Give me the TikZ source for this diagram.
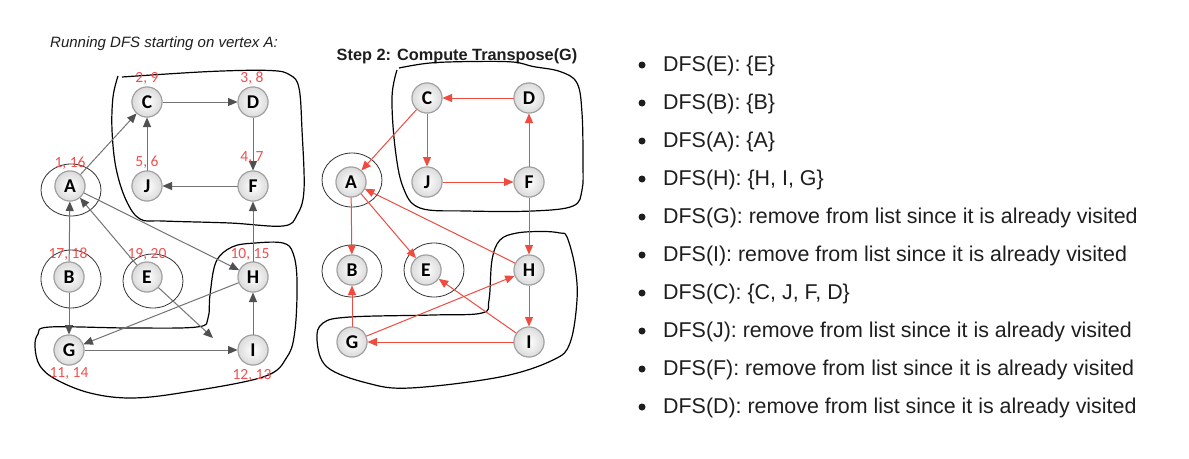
\documentclass[tikz,border=0pt]{standalone}
\usepackage{fontspec}
\setmainfont{Liberation Sans}
\newfontfamily\calfont{Carlito}
\usetikzlibrary{arrows.meta}
\definecolor{edgegray}{RGB}{115,115,115}
\definecolor{tipgray}{RGB}{80,80,80}
\definecolor{redge}{RGB}{240,75,65}
\definecolor{rlabel}{RGB}{240,80,80}
\definecolor{txt}{RGB}{30,30,30}
\tikzset{
  vert/.style={circle, minimum size=30pt, inner sep=0pt, draw=gray!75, line width=1pt,
    inner color=white, outer color=gray!28, text=black,
    font=\calfont\bfseries\fontsize{19.5}{19.5}\selectfont},
  ged/.style={draw=edgegray, line width=1pt, -{Triangle[length=9.5pt,width=8pt,color=tipgray]}},
  red/.style={draw=redge, line width=1pt, -{Triangle[length=9.5pt,width=8pt,color=redge]}},
  ring/.style={draw=black!80, line width=0.8pt},
  blob/.style={draw=black, line width=1.2pt},
  dlabel/.style={text=rlabel, inner sep=0pt, font=\calfont\fontsize{15.5}{15.5}\selectfont},
  item/.style={anchor=base west, inner sep=0pt, text=txt, font=\fontsize{21.4}{26}\selectfont},
  bul/.style={circle, fill=txt, inner sep=0pt, minimum size=7pt}
}
\begin{document}
\begin{tikzpicture}[x=1pt,y=-1pt]
\useasboundingbox (0,0) rectangle (1189,458);
\fill[white] (0,0) rectangle (1189,458);

% titles
\node[anchor=base west, inner sep=0pt, text=txt, font=\itshape\fontsize{15}{18}\selectfont] (t1) at (50,47) {Running DFS starting on vertex A:};
\node[anchor=base west, inner sep=0pt, text=txt, font=\bfseries\fontsize{16.3}{19}\selectfont] (t2) at (336.5,60.5) {Step 2: Compute Transpose(G)};

% ---------- left graph ----------
\node[vert] (lC) at (147,102) {C};
\node[vert] (lD) at (253,102) {D};
\node[vert] (lA) at (70,186) {A};
\node[vert] (lJ) at (147,186) {J};
\node[vert] (lF) at (253,186) {F};
\node[vert] (lB) at (69,277) {B};
\node[vert] (lE) at (147,277) {E};
\node[vert] (lH) at (253,277) {H};
\node[vert] (lG) at (69,350) {G};
\node[vert] (lI) at (253,350) {I};
\coordinate (lEI) at (213,338);

\draw[ring] (71,190) ellipse [x radius=30pt, y radius=26pt];
\draw[ring] (71,279) ellipse [x radius=30pt, y radius=29pt];
\draw[ring] (153,281) ellipse [x radius=30pt, y radius=27pt];

\draw[blob] plot[smooth, tension=0.6] coordinates {(122,77) (210,71.5) (270,70.5) (290,75) (299,88) (302,130) (304,190) (297,215) (283,226) (230,223) (163,221) (140,219) (126,200) (116,168) (112,130) (113,97) (118,76)};
\draw[blob] plot[smooth cycle, tension=0.6] coordinates {(283,243) (255,243) (232,247) (216,262) (210,295) (208,318) (197,327) (130,328) (50,327) (38,334) (35,347) (40,366) (57,380) (90,393) (130,398) (180,393) (263,377) (287,357) (295,330) (297,280) (293,253)};

\draw[ged] (lA) -- (lC);
\draw[ged] (lC) -- (lD);
\draw[ged] (lD) -- (lF);
\draw[ged] (lF) -- (lJ);
\draw[ged] (lJ) -- (lC);
\draw[ged] (lA) -- (lH);
\draw[ged] (lE) -- (lA);
\draw[ged] (lB) -- (lA);
\draw[ged] (lB) -- (lG);
\draw[ged] (lH) -- (lG);
\draw[ged] (lE) -- (lEI);
\draw[ged] (lG) -- (lI);
\draw[ged] (lI) -- (lH);
\draw[ged] (lH) -- (lF);

\node[vert] at (lC) {C};
\node[vert] at (lD) {D};
\node[vert] at (lA) {A};
\node[vert] at (lJ) {J};
\node[vert] at (lF) {F};
\node[vert] at (lB) {B};
\node[vert] at (lE) {E};
\node[vert] at (lH) {H};
\node[vert] at (lG) {G};
\node[vert] at (lI) {I};

\node[dlabel] (n1) at (147,78) {2, 9};
\node[dlabel] (n2) at (252,78) {3, 8};
\node[dlabel] (n3) at (70,163) {1, 16};
\node[dlabel] (n4) at (147,162) {5, 6};
\node[dlabel] (n5) at (252,158) {4, 7};
\node[dlabel] (n6) at (68,254) {17, 18};
\node[dlabel] (n7) at (147,254) {19, 20};
\node[dlabel] (n8) at (250,254) {10, 15};
\node[dlabel] (n9) at (69,373) {11, 14};
\node[dlabel] (n10) at (252,375) {12, 13};

% ---------- right graph ----------
\node[vert] (rC) at (427,98) {C};
\node[vert] (rD) at (529,98) {D};
\node[vert] (rA) at (351,182) {A};
\node[vert] (rJ) at (427,182) {J};
\node[vert] (rF) at (529,182) {F};
\node[vert] (rB) at (352,270) {B};
\node[vert] (rE) at (426,270) {E};
\node[vert] (rH) at (529,270) {H};
\node[vert] (rG) at (352,342) {G};
\node[vert] (rI) at (529,342) {I};

\draw[ring] (352,180) ellipse [x radius=30pt, y radius=27pt];
\draw[ring] (352,271) ellipse [x radius=30pt, y radius=26pt];
\draw[ring] (434,270) ellipse [x radius=30pt, y radius=27pt];

\draw[blob] plot[smooth, tension=0.6] coordinates {(399,68) (430,63) (473,61.5) (513,62) (533,66.5) (560,71.5) (577,83) (582,113) (583,163) (582,190) (573,206) (533,211) (467,211) (420,208) (403,187) (395,147) (392,97) (397,70)};
\draw[blob] plot[smooth cycle, tension=0.6] coordinates {(560,233) (567,237) (575,267) (577,300) (570,343) (553,360) (500,377) (410,388) (367,383) (327,367) (317,340) (323,323) (350,317) (433,315) (482,313) (489,300) (492,260) (500,240) (517,233) (543,231.5)};

\draw[red] (rD) -- (rC);
\draw[red] (rC) -- (rJ);
\draw[red] (rJ) -- (rF);
\draw[red] (rF) -- (rD);
\draw[red] (rC) -- (rA);
\draw[red] (rH) -- (rA);
\draw[red] (rA) -- (rB);
\draw[red] (rA) -- (rE);
\draw[red] (rF) -- (rH);
\draw[red] (rH) -- (rI);
\draw[red] (rI) -- (rE);
\draw[red] (rI) -- (rG);
\draw[red] (rG) -- (rH);
\draw[red] (rG) -- (rB);

\node[vert] at (rC) {C};
\node[vert] at (rD) {D};
\node[vert] at (rA) {A};
\node[vert] at (rJ) {J};
\node[vert] at (rF) {F};
\node[vert] at (rB) {B};
\node[vert] at (rE) {E};
\node[vert] at (rH) {H};
\node[vert] at (rG) {G};
\node[vert] at (rI) {I};

% ---------- list ----------
\foreach \i/\t in {0/{DFS(E): \{E\}},
                   1/{DFS(B): \{B\}},
                   2/{DFS(A): \{A\}},
                   3/{DFS(H): \{H, I, G\}},
                   4/{DFS(G): remove from list since it is already visited},
                   5/{DFS(I): remove from list since it is already visited},
                   6/{DFS(C): \{C, J, F, D\}},
                   7/{DFS(J): remove from list since it is already visited},
                   8/{DFS(F): remove from list since it is already visited},
                   9/{DFS(D): remove from list since it is already visited}}{
  \node[bul] (b\i) at (642,{65+38*\i}) {};
  \node[item] (it\i) at (663,{71.7+38*\i}) {\t};
}
\end{tikzpicture}
\end{document}
